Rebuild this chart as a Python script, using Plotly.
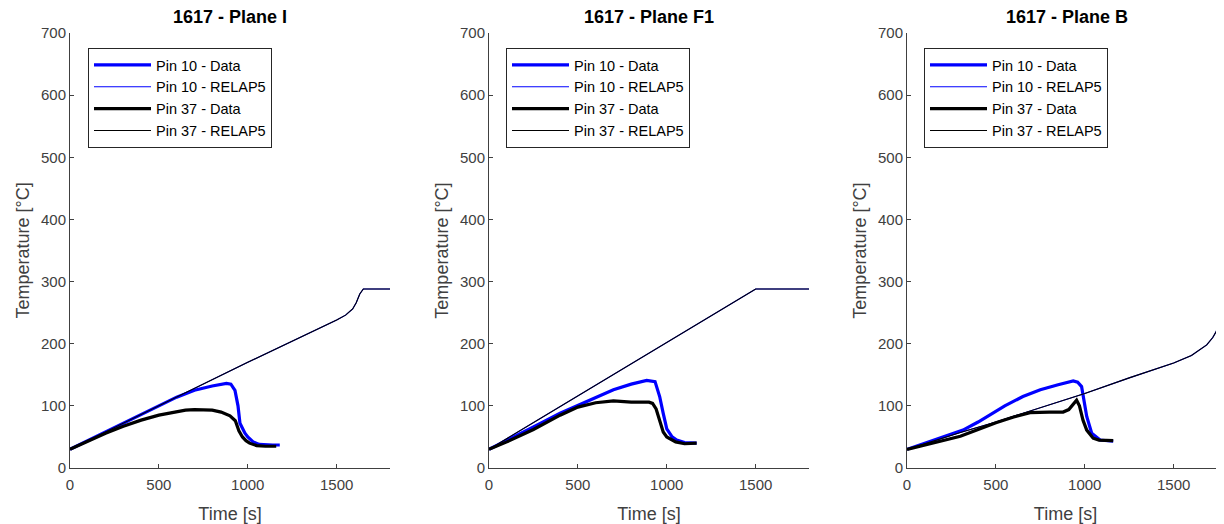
import plotly.graph_objects as go

OFF = 8  # page body margin of the browser
W, H = 1224 - OFF, 524 - OFF

titles = ["1617 - Plane I", "1617 - Plane F1", "1617 - Plane B"]
series_names = ["Pin 10 - Data", "Pin 10 - RELAP5", "Pin 37 - Data", "Pin 37 - RELAP5"]

# ---- Plane I ----
t_I_p10_data = [0, 100, 200, 300, 400, 500, 600, 700, 800, 880, 905, 928, 945, 956, 970, 984, 1000, 1030, 1064, 1100, 1140, 1180]
T_I_p10_data = [30, 44, 58, 72, 86, 100, 114, 125, 132, 136, 135, 125, 100, 72, 64, 56, 50, 42, 38, 37, 37, 37]
t_I_relap = [0, 500, 1000, 1500, 1550, 1590, 1610, 1630, 1650, 1800]
T_I_p10_relap = [30, 100, 170, 238, 246, 256, 266, 280, 288, 288]
T_I_p37_relap = [30, 100, 170, 238, 246, 256, 266, 280, 288, 288]
t_I_p37_data = [0, 100, 200, 300, 400, 500, 600, 650, 700, 800, 850, 900, 930, 950, 970, 990, 1010, 1050, 1100, 1160]
T_I_p37_data = [30, 43, 56, 67, 77, 85, 91, 93, 94, 93, 90, 84, 76, 60, 50, 44, 40, 36, 35, 35]

# ---- Plane F1 ----
t_F_p10_data = [0, 100, 250, 400, 500, 600, 700, 800, 887, 934, 960, 980, 1000, 1030, 1056, 1100, 1168]
T_F_p10_data = [30, 44, 66, 88, 101, 114, 126, 135, 141, 139, 115, 88, 63, 50, 45, 41, 40]
t_F_relap = [0, 500, 1000, 1500, 1800]
T_F_p10_relap = [30, 116, 201, 288, 288]
T_F_p37_relap = [30, 116, 201, 288, 288]
t_F_p37_data = [0, 100, 250, 400, 500, 600, 700, 800, 900, 920, 940, 960, 980, 1000, 1050, 1100, 1168]
T_F_p37_data = [30, 42, 62, 85, 98, 105, 108, 106, 106, 104, 95, 75, 58, 50, 42, 39, 40]

# ---- Plane B ----
t_B_p10_data = [0, 100, 200, 315, 400, 467, 550, 652, 750, 850, 935, 960, 982, 1011, 1039, 1086, 1160]
T_B_p10_data = [30, 40, 49, 61, 74, 85, 100, 115, 126, 134, 140, 138, 131, 83, 56, 45, 43]
t_B_relap = [0, 150, 300, 500, 700, 1000, 1250, 1500, 1600, 1686, 1720, 1740, 1760, 1783, 1800]
T_B_p10_relap = [30, 44, 57, 74, 92, 120, 145, 169, 181, 198, 210, 220, 245, 276, 300]
T_B_p37_relap = [30, 44, 57, 74, 92, 120, 145, 169, 181, 198, 210, 220, 245, 276, 300]
t_B_p37_data = [0, 100, 200, 300, 400, 500, 600, 692, 800, 878, 910, 954, 970, 990, 1011, 1047, 1080, 1160]
T_B_p37_data = [30, 37, 44, 51, 62, 73, 82, 89, 90, 90, 94, 109, 100, 77, 61, 48, 45, 44]

panels = [
    (t_I_p10_data, T_I_p10_data, t_I_relap, T_I_p10_relap, t_I_p37_data, T_I_p37_data, t_I_relap, T_I_p37_relap),
    (t_F_p10_data, T_F_p10_data, t_F_relap, T_F_p10_relap, t_F_p37_data, T_F_p37_data, t_F_relap, T_F_p37_relap),
    (t_B_p10_data, T_B_p10_data, t_B_relap, T_B_p10_relap, t_B_p37_data, T_B_p37_data, t_B_relap, T_B_p37_relap),
]

colors = ["#0000ff", "#0000ff", "#000000", "#000000"]
widths = [3.2, 1.1, 3.2, 1.1]

# pixel geometry (screen coordinates, converted to figure coordinates by OFF)
x0_px = [70 - OFF, 489 - OFF, 907 - OFF]
plot_w = 320
top_px, bot_px = 33 - OFF, 468 - OFF
ydom = [(H - bot_px) / H, (H - top_px) / H]
legend_left_px = [88 - OFF, 506 - OFF, 924 - OFF]
legend_top_px = 48 - OFF
title_mid_px = 17 - OFF

FONT = "Liberation Sans, Arial, Helvetica, sans-serif"
AXCOL = "#404040"

fig = go.Figure()
for p, data in enumerate(panels):
    sfx = "" if p == 0 else str(p + 1)
    leg = "legend" if p == 0 else f"legend{p + 1}"
    for k in range(4):
        fig.add_trace(go.Scatter(
            x=data[2 * k], y=data[2 * k + 1], mode="lines",
            name=series_names[k],
            line=dict(color=colors[k], width=widths[k]),
            xaxis="x" + sfx, yaxis="y" + sfx, legend=leg,
        ))

layout = dict(
    width=W, height=H,
    margin=dict(l=0, r=0, t=0, b=0, autoexpand=False),
    paper_bgcolor="white", plot_bgcolor="white",
    font=dict(family=FONT, size=13, color=AXCOL),
    showlegend=True,
    annotations=[],
)

for p in range(3):
    sfx = "" if p == 0 else str(p + 1)
    left = x0_px[p] / W
    right = min((x0_px[p] + plot_w) / W, 1.0)
    xmax = 1800 if p < 2 else 1800 * (W - x0_px[p]) / plot_w
    layout["xaxis" + sfx] = dict(
        domain=[left, right], range=[0, xmax], anchor="y" + sfx, automargin=False,
        tickvals=[0, 500, 1000, 1500], ticks="inside", ticklen=4, tickcolor=AXCOL,
        showline=True, linecolor=AXCOL, linewidth=1, showgrid=False, zeroline=False,
        tickfont=dict(size=15, color=AXCOL, family=FONT), ticklabelstandoff=3,
        title=dict(text="Time [s]", font=dict(size=18, color=AXCOL, family=FONT), standoff=16),
    )
    layout["yaxis" + sfx] = dict(
        domain=ydom, range=[0, 700], anchor="x" + sfx, automargin=False,
        tickvals=[0, 100, 200, 300, 400, 500, 600, 700], ticks="inside", ticklen=4, tickcolor=AXCOL,
        showline=True, linecolor=AXCOL, linewidth=1, showgrid=False, zeroline=False,
        tickfont=dict(size=15, color=AXCOL, family=FONT),
        title=dict(text="Temperature [°C]", font=dict(size=18, color=AXCOL, family=FONT), standoff=6),
    )
    leg = "legend" if p == 0 else f"legend{p + 1}"
    layout[leg] = dict(
        x=legend_left_px[p] / W, y=(H - legend_top_px) / H, xanchor="left", yanchor="top",
        bgcolor="white", bordercolor="#262626", borderwidth=1,
        font=dict(size=14.5, color="#000000", family=FONT),
        itemwidth=57, tracegroupgap=0,
    )
    layout["annotations"].append(dict(
        text="<b>" + titles[p] + "</b>", xref="paper", yref="paper",
        x=(x0_px[p] + plot_w / 2) / W, y=(H - title_mid_px) / H,
        xanchor="center", yanchor="middle", showarrow=False,
        font=dict(size=18, color="#000000", family=FONT),
    ))

fig.update_layout(**layout)
fig.write_html("out.html")
